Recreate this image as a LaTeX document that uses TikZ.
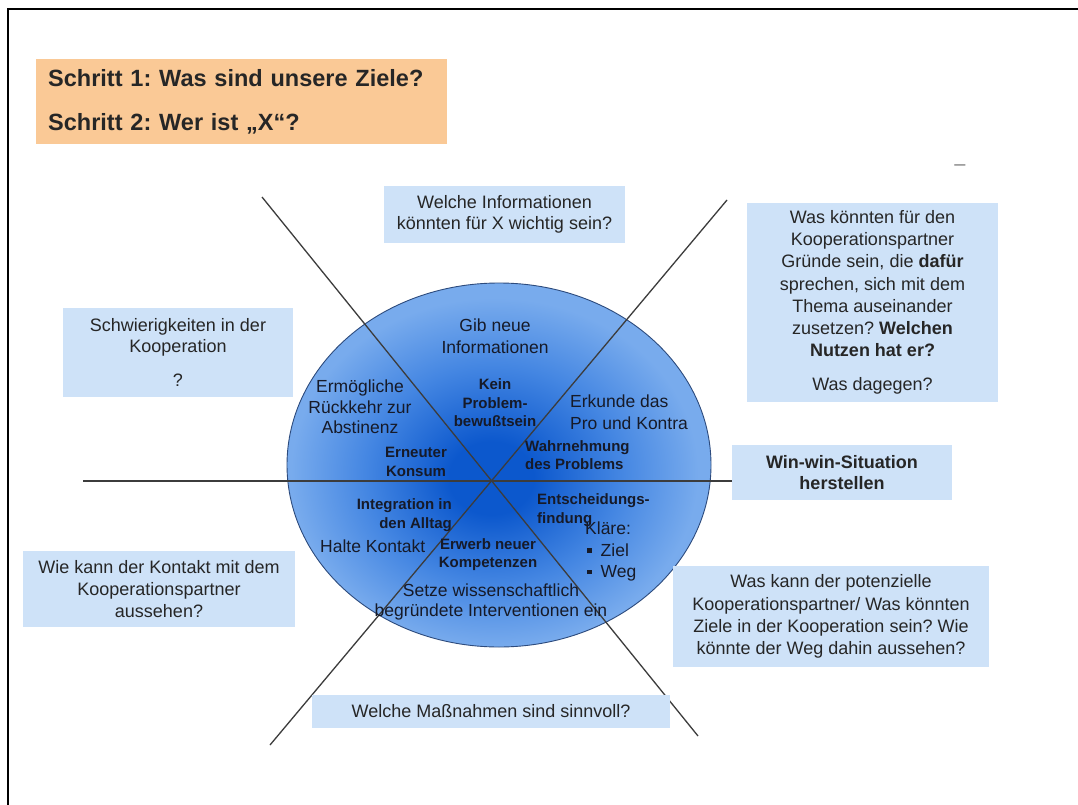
\documentclass[tikz,border=0pt]{standalone}
\usepackage{fontspec}
\setmainfont{Liberation Sans}
\usetikzlibrary{calc}
\frenchspacing

\definecolor{boxc}{RGB}{206,226,248}
\definecolor{peach}{RGB}{250,201,150}
\definecolor{textc}{RGB}{38,38,38}
\definecolor{intext}{RGB}{22,26,40}
\definecolor{linec}{RGB}{60,60,60}
\definecolor{ecore}{RGB}{12,88,205}
\definecolor{emid}{RGB}{68,134,226}
\definecolor{erim}{RGB}{120,171,237}
\definecolor{eline}{RGB}{45,75,125}

% radial fill of the stage wheel: dark core, light rim
\pgfdeclareradialshading{ellshade}{\pgfpoint{-1bp}{-2bp}}{%
  color(0bp)=(ecore); color(5bp)=(ecore); color(15bp)=(emid);
  color(24bp)=(erim); color(50bp)=(erim)}

\pgfdeclarelayer{bg}
\pgfsetlayers{bg,main}

% small square bullet
\newcommand{\sqbul}{\raisebox{3.5pt}{\rule{4.5pt}{4.5pt}}}

\begin{document}
\begin{tikzpicture}[x=1pt,y=-1pt,
  box/.style={fill=boxc, text=textc, inner sep=0pt, align=center,
              font=\fontsize{18}{22.2}\selectfont},
  titlebox/.style={fill=peach, text=black!85, align=left, text width=387pt,
              inner xsep=12pt, inner ysep=0pt,
              font=\bfseries\fontsize{23.5}{28}\selectfont},
  lbl/.style={text=intext, inner sep=0pt, align=center,
              font=\fontsize{17.5}{21.5}\selectfont},
  blbl/.style={text=intext, inner sep=0pt, align=center,
              font=\bfseries\fontsize{15}{18.5}\selectfont},
  divline/.style={draw=linec, line width=1.3pt},
  frame/.style={draw=black, line width=2.2pt}]

\useasboundingbox (0,0) rectangle (1078,805);

% page frame (top and left edge)
\coordinate (fbl) at (8,805);
\coordinate (ftl) at (8,9);
\coordinate (ftr) at (1078,9);
\draw[frame] (fbl) -- (ftl) -- (ftr);

% heading
\node[titlebox, anchor=north west, minimum width=411, minimum height=85]
  (title) at (36,59) {Schritt 1: Was sind unsere Ziele?\\[16pt]Schritt 2: Wer ist „X“?};

\node[text=gray, font=\fontsize{20}{20}\selectfont, inner sep=0pt] (dash) at (960,168) {–};

% question boxes around the wheel
\node[box, minimum width=241, minimum height=57, font=\fontsize{18}{20.5}\selectfont]
  (info) at (504.5,214.5) {Welche Informationen\\könnten für X wichtig sein?};
\node[box, minimum width=251, minimum height=199]
  (gruende) at (872.5,302.5) {Was könnten für den\\Kooperationspartner\\Gründe sein, die \textbf{dafür}\\sprechen, sich mit dem\\Thema auseinander\\zusetzen? \textbf{Welchen}\\\textbf{Nutzen hat er?}\\[12pt]Was dagegen?};
\node[box, minimum width=230, minimum height=89, font=\fontsize{18}{20.5}\selectfont]
  (schwierig) at (178,352.5) {Schwierigkeiten in der\\Kooperation\\[14pt]?};
\node[box, minimum width=220, minimum height=55, font=\bfseries\fontsize{18}{21}\selectfont]
  (winwin) at (842,472.5) {Win-win-Situation\\herstellen};
\node[box, minimum width=272, minimum height=76]
  (kontakt) at (159,589) {Wie kann der Kontakt mit dem\\Kooperationspartner\\aussehen?};
\node[box, minimum width=316, minimum height=101]
  (ziele) at (831,616.5) {Was kann der potenzielle\\Kooperationspartner/ Was könnten\\Ziele in der Kooperation sein? Wie\\könnte der Weg dahin aussehen?};
\node[box, minimum width=358, minimum height=33]
  (massnahmen) at (491,711.5) {Welche Maßnahmen sind sinnvoll?};

% wheel and its dividing lines
\coordinate (ec) at (499,465);
\coordinate (ul) at (262,197);
\coordinate (lr) at (698,736);
\coordinate (ur) at (727,200);
\coordinate (ll) at (270,745);
\coordinate (hl) at (83,481);
\begin{pgfonlayer}{bg}
  \fill[white] (0,0) rectangle (1078,805);
  \shade[shading=ellshade] (ec) ellipse [x radius=212, y radius=182];
  \draw[draw=eline, line width=0.9pt] (ec) ellipse [x radius=212, y radius=182];
  \draw[divline] (ul) -- (lr);
  \draw[divline] (ur) -- (ll);
  \draw[divline] (hl) -- (hl -| winwin.west);
\end{pgfonlayer}

% stages and actions inside the wheel
\node[lbl] (gib) at (495,336) {Gib neue\\Informationen};
\node[blbl] (kein) at (495,403) {Kein\\Problem-\\bewußtsein};
\node[lbl, font=\fontsize{17.5}{20.5}\selectfont] (ermoeg) at (360,407) {Ermögliche\\Rückkehr zur\\Abstinenz};
\node[lbl, anchor=west, align=left] (erkunde) at (570,412) {Erkunde das\\Pro und Kontra};
\node[blbl, anchor=west, align=left, font=\bfseries\fontsize{15}{18}\selectfont] (wahr) at (525,455) {Wahrnehmung\\des Problems};
\node[blbl, font=\bfseries\fontsize{15}{19}\selectfont] (erneut) at (416,462) {Erneuter\\Konsum};
\node[blbl, anchor=east, align=right, font=\bfseries\fontsize{15}{19}\selectfont] (integ) at (452,515.5) {Integration in\\den Alltag};
\node[lbl, anchor=west] (halte) at (320,546) {Halte Kontakt};
\node[blbl, font=\bfseries\fontsize{15}{17.5}\selectfont] (erwerb) at (488,554.5) {Erwerb neuer\\Kompetenzen};
\node[blbl, anchor=west, align=left, font=\bfseries\fontsize{15}{19}\selectfont] (entsch) at (537,510.5) {Entscheidungs-\\findung};
\node[lbl, anchor=west, align=left] (klaere) at (585,551.5) {Kläre:\\\hspace{2pt}\sqbul\hspace{9pt}Ziel\\\hspace{2pt}\sqbul\hspace{9pt}Weg};
\node[lbl, font=\fontsize{17.5}{20}\selectfont] (setze) at (491,602) {Setze wissenschaftlich\\begründete Interventionen ein};

\end{tikzpicture}
\end{document}
